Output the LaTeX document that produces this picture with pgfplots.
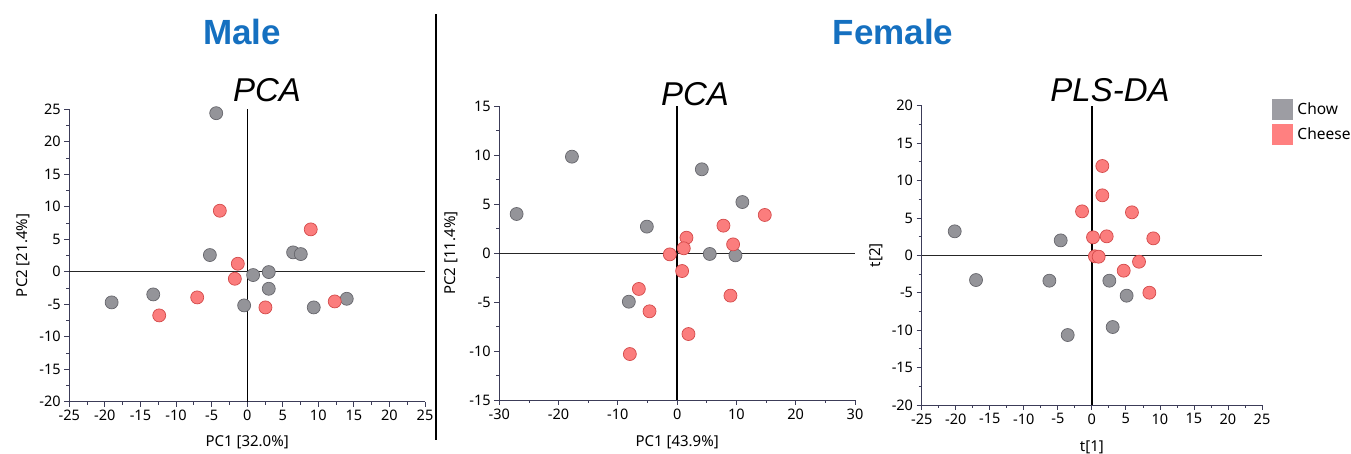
\documentclass[border=0pt]{standalone}
\usepackage{fontspec}
\setmainfont{Noto Sans}
\newfontfamily\arialfont{Liberation Sans}
\usepackage{pgfplots}
\pgfplotsset{compat=1.18}
\definecolor{axiscol}{HTML}{3C3C58}
\definecolor{chowfill}{HTML}{949499}
\definecolor{chowedge}{HTML}{66666C}
\definecolor{cheesefill}{HTML}{FB7D7D}
\definecolor{cheeseedge}{HTML}{D44A4A}
\definecolor{titleblue}{HTML}{1570C0}
\definecolor{legchow}{HTML}{9D9DA3}
\definecolor{legcheese}{HTML}{FF8080}
\pgfplotsset{
  pca/.style={
    scale only axis, anchor=south west, clip=false,
    axis lines=left,
    every outer x axis line/.append style={-},
    every outer y axis line/.append style={-},
    axis line style={axiscol, line width=0.8pt},
    tick align=outside, major tick length=5pt, minor tick length=3pt, minor tick num=1,
    tick style={axiscol, line width=0.8pt},
    ticklabel style={font=\fontsize{14.5}{16}\selectfont, text=black},
    yticklabel style={inner xsep=3.5pt},
    /pgf/number format/assume math mode=true,
    label style={font=\fontsize{15}{17}\selectfont, inner sep=0pt},
  },
  chow/.style={only marks, mark=*, mark size=6.5pt, mark options={fill=chowfill, draw=chowedge, line width=0.7pt}, forget plot},
  cheese/.style={only marks, mark=*, mark size=6.5pt, mark options={fill=cheesefill, draw=cheeseedge, line width=0.7pt}, forget plot},
}
\begin{document}
\begin{tikzpicture}[x=1pt,y=1pt]
\path[use as bounding box] (0,0) rectangle (1351,454);
% titles
\node[anchor=base, text=titleblue, font=\arialfont\bfseries\fontsize{35}{40}\selectfont] at (242,409) {Male};
\node[anchor=base, text=titleblue, font=\arialfont\bfseries\fontsize{35}{40}\selectfont] at (893,409) {Female};
\draw[black, line width=1.8pt] (436,14) -- (436,440);
\node[anchor=base, font=\arialfont\itshape\fontsize{33}{38}\selectfont] at (267,352) {PCA};
\node[anchor=base, font=\arialfont\itshape\fontsize{33}{38}\selectfont] at (695,348) {PCA};
\node[anchor=base, font=\arialfont\itshape\fontsize{33}{38}\selectfont] at (1110,352) {PLS-DA};

% Panel 1: Male PCA
\begin{axis}[pca, at={(69.3pt,52.3pt)}, width=355.7pt, height=292.4pt,
  xmin=-25, xmax=25, ymin=-20, ymax=25,
  xtick={-25,-20,...,25}, ytick={-20,-15,...,25},
  xlabel={PC1 [32.0\%]}, ylabel={PC2 [21.4\%]},
  xlabel style={at={(axis description cs:0.5,0)}, anchor=base, yshift=-45pt},
  ylabel style={at={(axis description cs:-0.118,0.5)}, anchor=base},
]
\addplot[black, line width=0.8pt, forget plot] coordinates {(0,-20) (0,25)};
\addplot[black!85, line width=0.8pt, forget plot] coordinates {(-25,0) (25,0)};
\addplot[chow] coordinates {(-4.35,24.4) (-5.24,2.57) (6.46,2.98) (7.54,2.72) (0.84,-0.51) (3.04,-0.05) (3.04,-2.62) (-0.42,-5.18) (-13.2,-3.49) (-19.05,-4.72) (9.36,-5.49) (14.0,-4.16)};
\addplot[cheese] coordinates {(-3.84,9.39) (8.94,6.52) (-1.31,1.23) (-1.73,-1.08) (-7.02,-3.95) (-12.36,-6.72) (2.57,-5.49) (12.31,-4.57)};
\end{axis}

% Panel 2: Female PCA
\begin{axis}[pca, at={(499.3pt,54pt)}, width=355.7pt, height=294pt,
  xmin=-30, xmax=30, ymin=-15, ymax=15,
  xtick={-30,-20,...,30}, ytick={-15,-10,...,15},
  xlabel={PC1 [43.9\%]}, ylabel={PC2 [11.4\%]},
  xlabel style={at={(axis description cs:0.5,0)}, anchor=base, yshift=-46.5pt},
  ylabel style={at={(axis description cs:-0.122,0.5)}, anchor=base},
]
\addplot[black, line width=1.8pt, forget plot] coordinates {(0,-15) (0,15)};
\addplot[black!85, line width=0.8pt, forget plot] coordinates {(-30,0) (30,0)};
\addplot[chow] coordinates {(-27.08,3.98) (-17.75,9.83) (4.16,8.54) (11.0,5.2) (-5.11,2.69) (5.5,-0.1) (9.83,-0.24) (-8.15,-4.97)};
\addplot[cheese] coordinates {(14.78,3.88) (7.81,2.79) (1.57,1.56) (1.12,0.48) (-1.24,-0.14) (9.44,0.88) (0.84,-1.84) (-6.46,-3.67) (-4.66,-5.95) (8.99,-4.35) (1.91,-8.27) (-7.98,-10.31)};
\end{axis}

% Panel 3: Female PLS-DA
\begin{axis}[pca, at={(921.7pt,49pt)}, width=340.3pt, height=299.3pt,
  xmin=-25, xmax=25, ymin=-20, ymax=20,
  xtick={-25,-20,...,25}, ytick={-20,-15,...,20},
  xlabel={t[1]}, ylabel={t[2]},
  xlabel style={at={(axis description cs:0.5,0)}, anchor=base, yshift=-47pt},
  ylabel style={at={(axis description cs:-0.1225,0.5)}, anchor=base},
  legend style={draw=none, fill=none, at={(axis description cs:1.029,1.022)}, anchor=north west,
    inner sep=0pt, row sep=4pt, font=\fontsize{15.5}{17}\selectfont},
  legend cell align=left,
]
\addplot[black, line width=1.8pt, forget plot] coordinates {(0,-20) (0,20)};
\addplot[black!85, line width=0.8pt, forget plot] coordinates {(-25,0) (25,0)};
\addplot[chow] coordinates {(-20.15,3.21) (-17.02,-3.30) (-6.24,-3.39) (-4.58,2.0) (-3.55,-10.65) (2.57,-3.39) (5.11,-5.39) (3.06,-9.58)};
\addplot[cheese] coordinates {(1.54,11.94) (1.54,8.02) (-1.44,5.88) (5.89,5.75) (0.17,2.41) (2.18,2.54) (9.03,2.27) (0.45,-0.13) (1.0,-0.18) (6.93,-0.85) (4.68,-2.05) (8.45,-4.99)};
\addlegendimage{legend image code/.code={\fill[legchow] (0pt,-10pt) rectangle (20pt,10pt); \path (23pt,0pt);}}
\addlegendentry{Chow}
\addlegendimage{legend image code/.code={\fill[legcheese] (0pt,-10pt) rectangle (20pt,10pt); \path (23pt,0pt);}}
\addlegendentry{Cheese}
\end{axis}
\end{tikzpicture}
\end{document}
